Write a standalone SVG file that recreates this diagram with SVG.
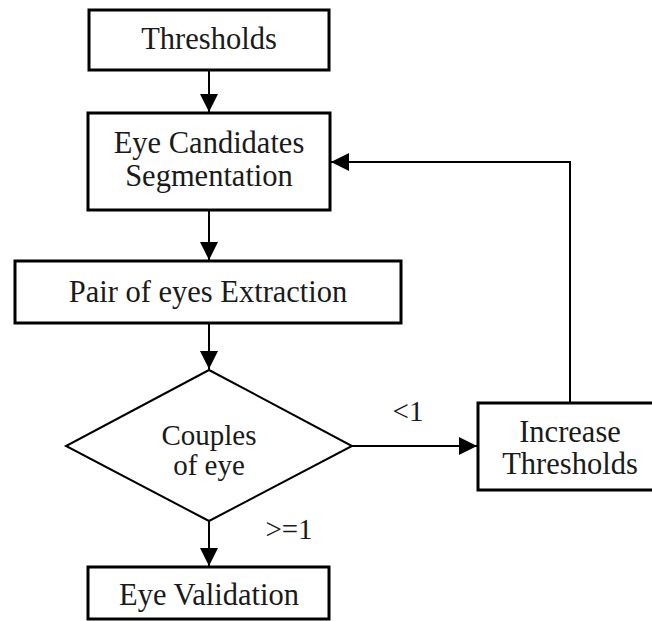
<svg xmlns="http://www.w3.org/2000/svg" width="652" height="621" viewBox="0 0 652 621" font-family="'Liberation Serif', 'Times New Roman', Times, serif">
<style>
.box{fill:#fff;stroke:#000;stroke-width:3}
.edge{fill:none;stroke:#000;stroke-width:2}
.t{font-family:'Liberation Serif','Times New Roman',Times,serif;font-size:30.5px;fill:#1a1a1a;text-anchor:middle}
.d{font-size:29px}
</style>
<defs>
<marker id="ah" viewBox="0 0 18 18" refX="18" refY="9" markerWidth="18" markerHeight="18" markerUnits="userSpaceOnUse" orient="auto">
<path d="M0,0 L18,9 L0,18 Z" fill="#000"/>
</marker>
</defs>
<rect width="652" height="621" fill="#fff"/>
<g id="connectors">
<line class="edge" x1="209" y1="70" x2="209" y2="112" marker-end="url(#ah)"/>
<line class="edge" x1="209" y1="210" x2="209" y2="260" marker-end="url(#ah)"/>
<line class="edge" x1="209" y1="323" x2="209" y2="369" marker-end="url(#ah)"/>
<line class="edge" x1="352" y1="446" x2="477" y2="446" marker-end="url(#ah)"/>
<line class="edge" x1="209" y1="521" x2="209" y2="566" marker-end="url(#ah)"/>
<polyline class="edge" points="570,402 570,162 331,162" marker-end="url(#ah)"/>
<text class="t d" x="408" y="421">&lt;1</text>
<text class="t d" x="289" y="539">&gt;=1</text>
</g>
<g id="thresholds">
<rect class="box" x="89" y="10" width="240" height="60"/>
<text class="t" x="209" y="49">Thresholds</text>
</g>
<g id="segmentation">
<rect class="box" x="88" y="113" width="242" height="97"/>
<text class="t" x="209" y="153">Eye Candidates</text>
<text class="t" x="209" y="186">Segmentation</text>
</g>
<g id="extraction">
<rect class="box" x="15" y="261" width="386" height="62"/>
<text class="t" x="208" y="302">Pair of eyes Extraction</text>
</g>
<g id="decision">
<polygon class="edge" points="209,370 352,446 209,521 66,446"/>
<text class="t d" x="209" y="445">Couples</text>
<text class="t d" x="209" y="475">of eye</text>
</g>
<g id="increase">
<rect class="box" x="478" y="403" width="184" height="87"/>
<text class="t" x="570" y="442">Increase</text>
<text class="t" x="570" y="474">Thresholds</text>
</g>
<g id="validation">
<rect class="box" x="88" y="567" width="241" height="52"/>
<text class="t" x="209" y="605">Eye Validation</text>
</g>
</svg>
